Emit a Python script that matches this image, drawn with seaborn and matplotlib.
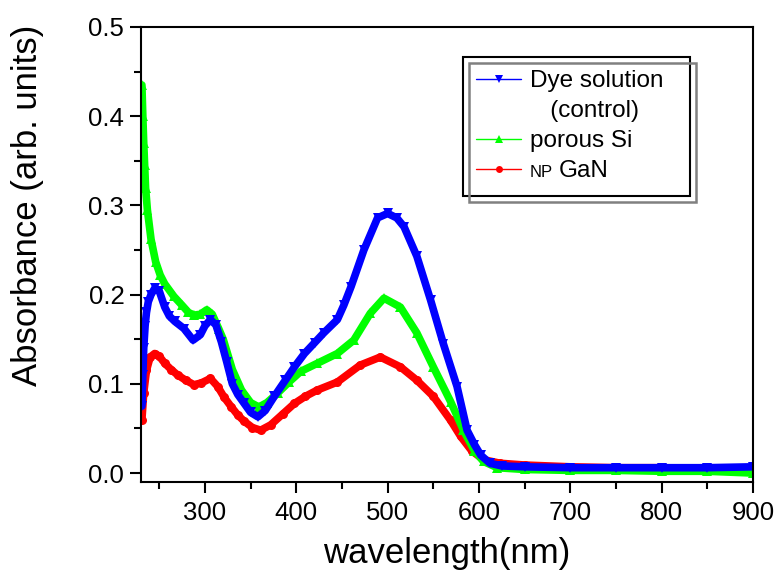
import matplotlib
matplotlib.use("Agg")
import matplotlib.pyplot as plt
import seaborn as sns
from matplotlib.lines import Line2D
from matplotlib.patches import Rectangle
from matplotlib.transforms import IdentityTransform
from matplotlib.ticker import MultipleLocator, FormatStrFormatter

# ---- data ----
dye_wl = [231, 232, 233, 234.5, 236, 238, 241, 245, 250, 256, 261, 267, 277, 287, 295, 300,
          306, 312, 318, 324, 330, 336, 343, 350, 358, 366, 376, 388, 398, 409, 420, 430,
          445, 452, 460, 474, 489, 500, 510, 518, 532, 547, 561, 576, 587, 595, 602, 612,
          625, 650, 700, 750, 800, 850, 900]
dye_abs = [0.075, 0.110, 0.140, 0.165, 0.180, 0.192, 0.200, 0.207, 0.204, 0.186, 0.176, 0.170,
           0.162, 0.149, 0.155, 0.165, 0.172, 0.166, 0.147, 0.124, 0.100, 0.088, 0.078, 0.068,
           0.063, 0.070, 0.086, 0.104, 0.119, 0.134, 0.146, 0.157, 0.172, 0.188, 0.209, 0.250,
           0.286, 0.291, 0.286, 0.276, 0.243, 0.194, 0.145, 0.097, 0.048, 0.032, 0.020, 0.011,
           0.008, 0.007, 0.006, 0.006, 0.006, 0.006, 0.007]

psi_wl = [231, 232, 233, 234, 235, 237, 241, 246, 251, 256, 266, 275, 282, 288, 295, 302,
          308, 315, 320, 330, 340, 350, 359, 368, 380, 392, 405, 423, 445, 463, 481, 496,
          514, 532, 550, 569, 583, 595, 605, 620, 650, 700, 750, 800, 850, 900]
psi_abs = [0.435, 0.400, 0.370, 0.345, 0.320, 0.295, 0.262, 0.237, 0.222, 0.212, 0.198, 0.188,
           0.180, 0.177, 0.178, 0.183, 0.178, 0.162, 0.150, 0.116, 0.093, 0.079, 0.074, 0.079,
           0.090, 0.102, 0.114, 0.123, 0.134, 0.149, 0.179, 0.196, 0.186, 0.157, 0.119, 0.080,
           0.048, 0.025, 0.013, 0.006, 0.004, 0.003, 0.003, 0.002, 0.002, 0.000]

gan_wl = [231, 233, 236, 240, 245, 250, 256, 263, 270, 279, 288, 296, 306, 314, 321, 329,
          336, 343, 352, 361, 372, 385, 398, 410, 423, 445, 470, 492, 514, 532, 550, 569,
          580, 592, 605, 623, 650, 700, 750, 800, 850, 900]
gan_abs = [0.060, 0.090, 0.115, 0.130, 0.134, 0.131, 0.123, 0.116, 0.110, 0.104, 0.099, 0.101,
           0.106, 0.097, 0.085, 0.074, 0.065, 0.058, 0.051, 0.048, 0.054, 0.066, 0.078, 0.086,
           0.093, 0.102, 0.121, 0.130, 0.119, 0.104, 0.086, 0.059, 0.041, 0.025, 0.015, 0.011,
           0.009, 0.007, 0.006, 0.006, 0.005, 0.005]

labels = ["Dye solution  ", "   (control)", "porous Si", " "]
gan_prefix, gan_name = "NP", "GaN"
x_ticks = [300, 400, 500, 600, 700, 800, 900]
y_ticks = [0.0, 0.1, 0.2, 0.3, 0.4, 0.5]

BLUE, GREEN, RED = "#0000ff", "#00ff00", "#ff0000"

sns.set_theme(style="ticks")
plt.rcParams["font.family"] = ["Liberation Sans", "DejaVu Sans"]

fig = plt.figure(figsize=(7.82, 5.80), dpi=100)
ax = fig.add_axes([0.1803, 0.1690, 0.7826, 0.7845])

lw, ms = 5.5, 6.5
sns.lineplot(x=gan_wl, y=gan_abs, ax=ax, color=RED, lw=lw, marker="o", markersize=ms,
             markeredgewidth=0, legend=False, sort=False)
sns.lineplot(x=psi_wl, y=psi_abs, ax=ax, color=GREEN, lw=lw, marker="^", markersize=ms,
             markeredgewidth=0, legend=False, sort=False)
sns.lineplot(x=dye_wl, y=dye_abs, ax=ax, color=BLUE, lw=lw, marker="v", markersize=ms,
             markeredgewidth=0, legend=False, sort=False)

ax.set_xlim(230, 900)
ax.set_ylim(-0.010, 0.5)
ax.set_xticks(x_ticks)
ax.set_yticks(y_ticks)
ax.xaxis.set_minor_locator(MultipleLocator(50))
ax.yaxis.set_minor_locator(MultipleLocator(0.05))
ax.yaxis.set_major_formatter(FormatStrFormatter("%.1f"))
ax.tick_params(which="major", direction="out", length=8, width=1.5, labelsize=18.5,
               colors="black", pad=4)
ax.tick_params(which="minor", direction="out", length=5, width=1.5, colors="black")
ax.tick_params(axis="x", which="major", pad=6)
for s in ax.spines.values():
    s.set_visible(True)
    s.set_color("black")
    s.set_linewidth(1.5)

ax.set_xlabel("wavelength(nm)", fontsize=25, color="black")
ax.set_ylabel("Absorbance (arb. units)", fontsize=25, color="black")
ax.xaxis.set_label_coords(0.5, -0.121)
ax.yaxis.set_label_coords(-0.158, 0.607)

handles = [
    Line2D([], [], color=BLUE, lw=1, marker="v", markersize=6, markeredgewidth=0),
    Line2D([], [], color="none", lw=0),
    Line2D([], [], color=GREEN, lw=1, marker="^", markersize=6, markeredgewidth=0),
    Line2D([], [], color=RED, lw=1, marker="o", markersize=5, markeredgewidth=0),
]
fs_leg = 17.5
leg = ax.legend(handles, labels, loc="upper left", bbox_to_anchor=(0.526, 0.934),
                borderaxespad=0, fontsize=fs_leg, frameon=True, fancybox=False,
                edgecolor="black", facecolor="white", framealpha=1,
                handlelength=1.85, handletextpad=0.35, labelspacing=0.33, borderpad=0.55)
leg.get_frame().set_linewidth(1.5)
for t in leg.get_texts():
    t.set_color("black")

fig.canvas.draw()
bb = leg.get_window_extent()
fig.add_artist(Rectangle((bb.x0 + 6, bb.y0 - 6), bb.width, bb.height, fill=False,
                         edgecolor="#808080", lw=1.8, transform=IdentityTransform()))

t_ps = leg.get_texts()[2].get_window_extent()
t_np = leg.get_texts()[3].get_window_extent()
base_y = t_np.y0 + 0.212 * fs_leg * 100 / 72
np_txt = fig.text(t_ps.x0, base_y, gan_prefix, fontsize=12, color="black",
                  ha="left", va="baseline", transform=IdentityTransform())
fig.canvas.draw()
np_bb = np_txt.get_window_extent()
fig.text(np_bb.x1 + 6, base_y, gan_name, fontsize=fs_leg, color="black",
         ha="left", va="baseline", transform=IdentityTransform())

fig.savefig("out.png", dpi=100)
